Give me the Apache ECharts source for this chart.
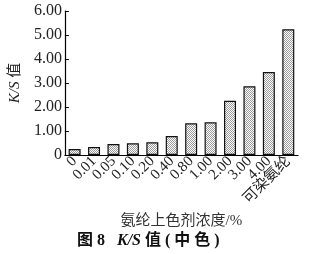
<!DOCTYPE html>
<html><head><meta charset="utf-8">
<script src="https://cdn.jsdelivr.net/npm/echarts@6/dist/echarts.min.js"></script>
<style>html,body{margin:0;padding:0;background:#fff}#c{width:317px;height:254px}</style>
</head><body><div id="c"></div>
<script>
const categories = ['0','0.01','0.05','0.10','0.20','0.40','0.80','1.00','2.00','3.00','4.00','可染氨纶'];
const values = [0.25,0.33,0.46,0.49,0.53,0.79,1.32,1.36,2.26,2.86,3.46,5.24];

const pc = document.createElement('canvas');
pc.width = 2; pc.height = 2;
const px = pc.getContext('2d');
px.fillStyle = '#ffffff'; px.fillRect(0,0,2,2);
px.fillStyle = '#9a9a9a'; px.fillRect(0,0,1,1); px.fillRect(1,1,1,1);

const serif = '"Liberation Serif","Noto Sans CJK SC",serif';
const chart = echarts.init(document.getElementById('c'));
chart.setOption({
  animation:false,
  grid:{left:54,right:19,top:11,bottom:99,containLabel:false},
  xAxis:{type:'category',data:categories,
    axisLine:{lineStyle:{color:'#000',width:1.2}},axisTick:{show:false},
    axisLabel:{rotate:45,color:'#222',fontFamily:serif,fontSize:15,margin:4,interval:0},
    name:'氨纶上色剂浓度/%',nameLocation:'middle',nameGap:58,
    nameTextStyle:{color:'#333',fontFamily:serif,fontSize:15}},
  yAxis:{type:'value',min:0,max:6,interval:1,
    axisLine:{show:true,lineStyle:{color:'#000',width:1.2}},
    axisTick:{show:true,inside:true,length:4,lineStyle:{color:'#000'}},
    splitLine:{show:false},
    axisLabel:{color:'#222',fontFamily:serif,fontSize:16,margin:3,
      formatter:v=>v===0?'0':v.toFixed(2)},
    name:'{i|K/S} 值',nameLocation:'middle',nameRotate:90,nameGap:40,
    nameTextStyle:{color:'#222',fontFamily:serif,fontSize:15,
      rich:{i:{fontStyle:'italic',fontFamily:serif,fontSize:15,color:'#222'}}}},
  series:[{type:'bar',data:values,barWidth:12,
    itemStyle:{color:{image:pc,repeat:'repeat'},borderColor:'#111',borderWidth:1.2}}],
  graphic:[{type:'text',left:77,top:233,
    style:{text:'图 8   {i|K/S} 值 ( 中 色 )',fill:'#111',
      font:'bold 16px '+serif,
      rich:{i:{fontStyle:'italic',fontWeight:'bold',fontFamily:serif,fontSize:16,fill:'#111'}}}}]
});
</script></body></html>
